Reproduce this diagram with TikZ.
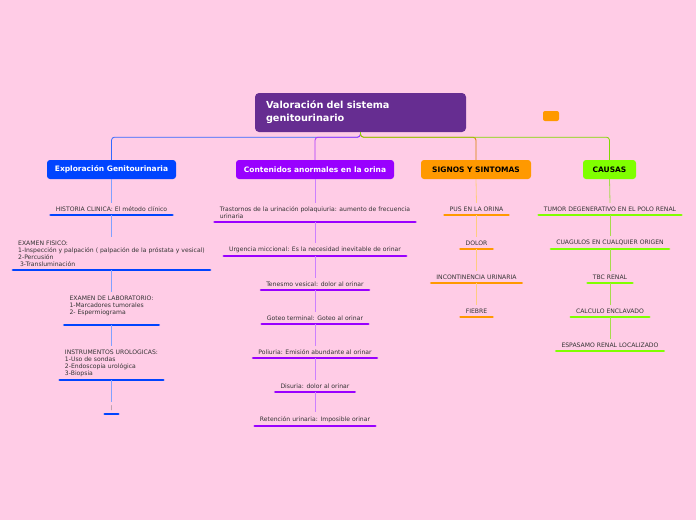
\documentclass[tikz,border=0pt]{standalone}
\usepackage{fontspec}
\setmainfont{DejaVu Sans}
\usetikzlibrary{positioning}

\definecolor{fondo}{HTML}{FFCCE6}
\definecolor{raizc}{HTML}{662D91}
\definecolor{azul}{HTML}{0044FF}
\definecolor{morado}{HTML}{9900FF}
\definecolor{naranja}{HTML}{FF9900}
\definecolor{verde}{HTML}{80FF00}
\definecolor{texto}{HTML}{333333}

\tikzset{
  raiz/.style={fill=raizc, rounded corners=4pt, minimum width=211pt, minimum height=39pt,
    text width=189pt, align=left, text=white, inner sep=0pt,
    font=\bfseries\fontsize{9.7}{13}\selectfont},
  rama/.style={rounded corners=3pt, minimum height=19pt, inner sep=0pt,
    font=\bfseries\fontsize{7.5}{8}\selectfont},
  hoja/.style={font=\fontsize{6.1}{7}\selectfont, text=texto, align=left,
    inner xsep=5pt, inner ysep=3.5pt, anchor=south},
  barra/.style={line width=2.9pt, line cap=round},
  enlace/.style={line width=0.8pt},
}

\begin{document}
\begin{tikzpicture}[x={(1pt,0)},y={(0,-1pt)}]
\fill[fondo] (0,0) rectangle (696,520);
\useasboundingbox (0,0) rectangle (696,520);

% central topic and heads
\node[raiz] (raiz) at (360.5,112.5) {Valoración del sistema\\genitourinario};
\node[fill=naranja, rounded corners=2pt, minimum width=16pt, minimum height=10pt, inner sep=0pt] (marca) at (551,116) {};
\node[rama, fill=azul, text=white, minimum width=129pt] (expl) at (111.5,169.5) {Exploración Genitourinaria};
\node[rama, fill=morado, text=white, minimum width=158pt] (cont) at (315,169.5) {Contenidos anormales en la orina};
\node[rama, fill=naranja, text=black, minimum width=110pt] (sign) at (476,169.5) {SIGNOS Y SINTOMAS};
\node[rama, fill=verde, text=black, minimum width=53pt] (caus) at (609.5,169.5) {CAUSAS};

\draw[enlace, azul!80, rounded corners=3pt] (raiz.south) -- ++(0,5) -| (expl.north);
\draw[enlace, morado!80, rounded corners=3pt] (raiz.south) -- ++(0,5) -| (cont.north);
\draw[enlace, naranja!85!black, rounded corners=3pt] (raiz.south) -- ++(0,5) -| (sign.north);
\draw[enlace, verde!70!olive, rounded corners=3pt] (raiz.south) -- ++(0,5) -| (caus.north);

% Exploracion
\foreach \n/\y/\t in {e1/215/{HISTORIA CLINICA: El método clínico},
  e2/270/{EXAMEN FISICO:\\1-Inspección y palpación ( palpación de la próstata y vesical)\\2-Percusión\\\hspace{0.3em}3-Transluminación},
  e3/325/{EXAMEN DE LABORATORIO:\\1-Marcadores tumorales\\2- Espermiograma\\~},
  e4/380/{INSTRUMENTOS UROLOGICAS:\\1-Uso de sondas\\2-Endoscopia urológica\\3-Biopsia}} {
  \node[hoja] (\n) at (111.5,\y) {\t};
  \draw[barra, azul] (\n.south west) -- (\n.south east);
}
\node[hoja, text=gray!80!black, font=\fontsize{5}{6}\selectfont, minimum width=13pt, inner xsep=0pt] (e5) at (111.5,414) {|};
\draw[barra, azul] (e5.south west) -- (e5.south east);
\foreach \a/\b in {expl/e1,e1/e2,e2/e3,e3/e4,e4/e5} \draw[enlace, azul!50] (\a.south) -- (\b.north);

% Contenidos
\foreach \n/\y/\t in {c1/222/{Trastornos de la urinación polaquiuria: aumento de frecuencia\\urinaria},
  c2/256/{Urgencia miccional: Es la necesidad inevitable de orinar},
  c3/290/{Tenesmo vesical: dolor al orinar},
  c4/324/{Goteo terminal: Goteo al orinar},
  c5/358/{Poliuria: Emisión abundante al orinar},
  c6/392/{Disuria: dolor al orinar},
  c7/426/{Retención urinaria: Imposible orinar}} {
  \node[hoja] (\n) at (315,\y) {\t};
  \draw[barra, morado] (\n.south west) -- (\n.south east);
}
\foreach \a/\b in {cont/c1,c1/c2,c2/c3,c3/c4,c4/c5,c5/c6,c6/c7} \draw[enlace, morado!50] (\a.south) -- (\b.north);

% Signos
\foreach \n/\y/\t in {s1/215/{PUS EN LA ORINA}, s2/249/{DOLOR},
  s3/283/{INCONTINENCIA URINARIA}, s4/317/{FIEBRE}} {
  \node[hoja] (\n) at (476.5,\y) {\t};
  \draw[barra, naranja] (\n.south west) -- (\n.south east);
}
\foreach \a/\b in {sign/s1,s1/s2,s2/s3,s3/s4} \draw[enlace, naranja!50] (\a.south) -- (\b.north);

% Causas
\foreach \n/\y/\t in {k1/215/{TUMOR DEGENERATIVO EN EL POLO RENAL}, k2/249/{CUAGULOS EN CUALQUIER ORIGEN},
  k3/283/{TBC RENAL}, k4/317/{CALCULO ENCLAVADO}, k5/351/{ESPASAMO RENAL LOCALIZADO}} {
  \node[hoja] (\n) at (610,\y) {\t};
  \draw[barra, verde] (\n.south west) -- (\n.south east);
}
\foreach \a/\b in {caus/k1,k1/k2,k2/k3,k3/k4,k4/k5} \draw[enlace, verde!60!olive!70] (\a.south) -- (\b.north);
\end{tikzpicture}
\end{document}
